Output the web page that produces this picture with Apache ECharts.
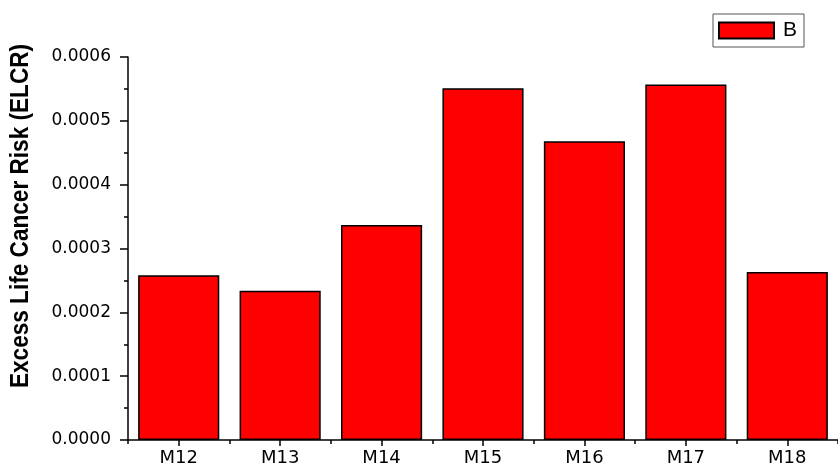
<!DOCTYPE html>
<html><head><meta charset="utf-8">
<script src="https://cdn.jsdelivr.net/npm/echarts@6/dist/echarts.min.js"></script>
<style>html,body{margin:0;padding:0;background:#fff}#c{width:838px;height:467px}</style>
</head><body><div id="c"></div>
<script>
const categories = ['M12','M13','M14','M15','M16','M17','M18'];
const valuesB = [0.000258, 0.000234, 0.000337, 0.000551, 0.000468, 0.000557, 0.000263];
const seriesName = 'B';
const yAxisTitle = 'Excess Life Cancer Risk (ELCR)';
const yMin = 0, yMax = 0.0006, yInterval = 0.0001;

const chart = echarts.init(document.getElementById('c'), null, {renderer:'canvas'});
const font = '"Liberation Sans", Arial, sans-serif';
const tickFont = '"DejaVu Sans", sans-serif';
chart.setOption({
  animation:false,
  backgroundColor:'#fff',
  grid:{left:128, top:57, bottom:27, width:719, containLabel:false},
  legend:{
    data:[seriesName], left:713, top:14, orient:'horizontal',
    itemWidth:55, itemHeight:16, itemGap:0,
    padding:[6,7,6,5], borderColor:'#555', borderWidth:1, borderRadius:0,
    textStyle:{fontFamily:font, fontSize:21, lineHeight:16, color:'#000', padding:[0,0,0,4]},
    icon:'rect'
  },
  xAxis:[{
    type:'category', data:categories, boundaryGap:true,
    axisLine:{show:true, lineStyle:{color:'#000', width:1.5}},
    axisTick:{show:true, alignWithLabel:true, length:6, lineStyle:{color:'#000', width:1.5}},
    axisLabel:{fontFamily:tickFont, fontSize:18, color:'#000', margin:9},
    splitLine:{show:false}
  },{
    type:'category', data:categories, boundaryGap:true, position:'bottom', gridIndex:0,
    axisLine:{show:false},
    axisTick:{show:true, alignWithLabel:false, length:4, lineStyle:{color:'#000', width:1.5}},
    axisLabel:{show:false}, splitLine:{show:false}
  }],
  yAxis:{
    type:'value', min:yMin, max:yMax, interval:yInterval,
    axisLine:{show:true, lineStyle:{color:'#000', width:1.5}},
    axisTick:{show:true, length:8, lineStyle:{color:'#000', width:1.5}},
    minorTick:{show:true, splitNumber:2, length:4, lineStyle:{color:'#000', width:1.5}},
    axisLabel:{fontFamily:tickFont, fontSize:17, color:'#000', margin:17, formatter:v=>v.toFixed(4)},
    splitLine:{show:false}
  },
  graphic:[{
    type:'text', x:21, y:216, rotation:Math.PI/2, scaleX:1.13, scaleY:1.25,
    style:{text:yAxisTitle, fontFamily:font, fontSize:20, fontWeight:'bold', fill:'#000', align:'center', verticalAlign:'middle'}
  }],
  series:[{
    name:seriesName, type:'bar', data:valuesB, barCategoryGap:'20%',
    itemStyle:{color:'#ff0000', borderColor:'#000', borderWidth:1.5}
  }]
});
</script></body></html>
